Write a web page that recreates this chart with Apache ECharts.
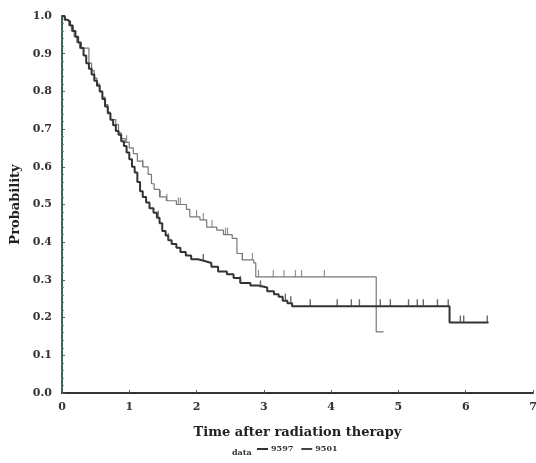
<!DOCTYPE html>
<html><head><meta charset="utf-8">
<script src="https://cdn.jsdelivr.net/npm/echarts@6/dist/echarts.min.js"></script>
<style>html,body{margin:0;padding:0;background:#fff}#c{width:536px;height:463px}</style>
</head><body><div id="c"></div>
<script>
// Kaplan-Meier step curves: [time, survival probability]
const seriesNames = ['9597', '9501'];
const darkCurve = [
 [0,1.0],[0.04,0.99],[0.08,0.985],[0.12,0.975],[0.16,0.96],[0.20,0.945],[0.24,0.93],[0.28,0.915],
 [0.32,0.895],[0.36,0.875],[0.40,0.86],[0.44,0.845],[0.48,0.828],[0.52,0.815],[0.56,0.80],[0.60,0.78],
 [0.64,0.76],[0.68,0.742],[0.72,0.725],[0.76,0.71],[0.80,0.695],[0.84,0.685],[0.88,0.668],[0.92,0.655],
 [0.96,0.638],[1.00,0.62],[1.04,0.60],[1.08,0.585],[1.12,0.56],[1.16,0.535],[1.20,0.52],[1.25,0.505],
 [1.30,0.49],[1.36,0.478],[1.41,0.465],[1.45,0.45],[1.49,0.43],[1.54,0.418],[1.58,0.405],[1.63,0.395],
 [1.70,0.385],[1.76,0.374],[1.84,0.365],[1.92,0.355],[2.02,0.35],[2.12,0.345],[2.22,0.335],[2.32,0.322],
 [2.45,0.315],[2.55,0.305],[2.65,0.292],[2.80,0.285],[2.92,0.28],[3.05,0.27],[3.15,0.262],[3.22,0.255],
 [3.28,0.245],[3.35,0.238],[3.42,0.23],[5.76,0.187],[6.34,0.187]
];
const grayCurve = [
 [0,1.0],[0.05,0.99],[0.10,0.975],[0.14,0.96],[0.18,0.945],[0.22,0.93],[0.26,0.915],[0.40,0.875],
 [0.44,0.855],[0.48,0.835],[0.52,0.82],[0.56,0.80],[0.60,0.785],[0.64,0.765],[0.68,0.745],[0.72,0.725],
 [0.80,0.712],[0.84,0.69],[0.88,0.675],[0.94,0.665],[1.00,0.65],[1.06,0.635],[1.12,0.615],[1.20,0.60],
 [1.28,0.58],[1.33,0.555],[1.37,0.54],[1.45,0.52],[1.55,0.51],[1.70,0.50],[1.85,0.487],[1.90,0.467],
 [2.05,0.459],[2.15,0.44],[2.30,0.432],[2.40,0.42],[2.53,0.41],[2.60,0.37],[2.68,0.353],[2.85,0.345],
 [2.88,0.308],[4.67,0.162],[4.78,0.162]
];
// censoring times
const darkCensor = [1.43,1.58,2.10,2.65,2.95,3.32,3.40,3.69,4.09,4.30,4.42,4.73,4.88,5.15,5.28,5.37,5.58,5.74,5.92,5.97,6.32];
const grayCensor = [0.96,1.20,1.46,1.56,1.73,1.76,2.00,2.10,2.23,2.43,2.46,2.68,2.83,2.92,3.14,3.30,3.47,3.56,3.90];
const xTicks = [0,1,2,3,4,5,6,7];
const yTicks = ['0.0','0.1','0.2','0.3','0.4','0.5','0.6','0.7','0.8','0.9','1.0'];

function stepAt(curve, t){ let v = curve[0][1]; for (const p of curve){ if (p[0] <= t) v = p[1]; } return v; }
const darkMarks = darkCensor.map(t => [t, stepAt(darkCurve, t)]);
const grayMarks = grayCensor.map(t => [t, stepAt(grayCurve, t)]);

const serif = '"DejaVu Serif", "Liberation Serif", serif';
const chart = echarts.init(document.getElementById('c'), null, {renderer:'canvas'});
chart.setOption({
  animation:false,
  backgroundColor:'#fff',
  grid:{left:62, right:3, top:16, bottom:70, containLabel:false, outerBoundsMode:'none'},
  xAxis:{type:'value', min:0, max:7, interval:1,
    name:'Time after radiation therapy', nameLocation:'middle', nameGap:33,
    nameTextStyle:{fontFamily:serif, fontSize:13, fontWeight:'bold', color:'#222'},
    axisLine:{lineStyle:{color:'#333', width:2}},
    axisTick:{inside:true, length:3, lineStyle:{color:'#555'}},
    axisLabel:{fontFamily:serif, fontSize:11, fontWeight:'bold', color:'#333', margin:9, formatter:v=>String(xTicks[v])},
    splitLine:{show:false}},
  yAxis:{type:'value', min:0, max:1, interval:0.1,
    name:'Probability', nameLocation:'middle', nameGap:38, nameRotate:90,
    nameTextStyle:{fontFamily:serif, fontSize:13, fontWeight:'bold', color:'#222'},
    axisLine:{lineStyle:{color:'#3d6650', width:2}},
    axisTick:{inside:true, length:3, lineStyle:{color:'#3d6650'}},
    minorTick:{show:true, splitNumber:5, length:2, lineStyle:{color:'#6a8a78'}},
    axisLabel:{fontFamily:serif, fontSize:11, fontWeight:'bold', color:'#333', margin:10,
      formatter:v=>yTicks[Math.round(v*10)]},
    splitLine:{show:false}},
  legend:{show:true, bottom:5, left:252, itemGap:8, itemWidth:11, itemHeight:2, icon:'rect',
    textStyle:{fontFamily:serif, fontSize:8, fontWeight:'bold', color:'#333', padding:[0,0,0,-2]},
    data:[{name:seriesNames[0], itemStyle:{color:'#333'}},{name:seriesNames[1], itemStyle:{color:'#444'}}]},
  graphic:[{type:'text', left:232, bottom:6, style:{text:'data', font:'bold 8px '+serif, fill:'#333'}}],
  series:[
    {name:seriesNames[1], type:'line', step:'end', data:grayCurve, showSymbol:false, symbol:'none',
     lineStyle:{color:'#777', width:1.2}, itemStyle:{color:'#777'}, z:2},
    {name:seriesNames[0], type:'line', step:'end', data:darkCurve, showSymbol:false, symbol:'none',
     lineStyle:{color:'#333', width:2}, itemStyle:{color:'#333'}, z:3},
    {name:seriesNames[1], type:'scatter', data:grayMarks, symbol:'rect', symbolSize:[1.2,7], symbolOffset:[0,-3.5],
     itemStyle:{color:'#777'}, z:4},
    {name:seriesNames[0], type:'scatter', data:darkMarks, symbol:'rect', symbolSize:[1.4,7], symbolOffset:[0,-3.5],
     itemStyle:{color:'#444'}, z:4}
  ]
});
</script></body></html>
